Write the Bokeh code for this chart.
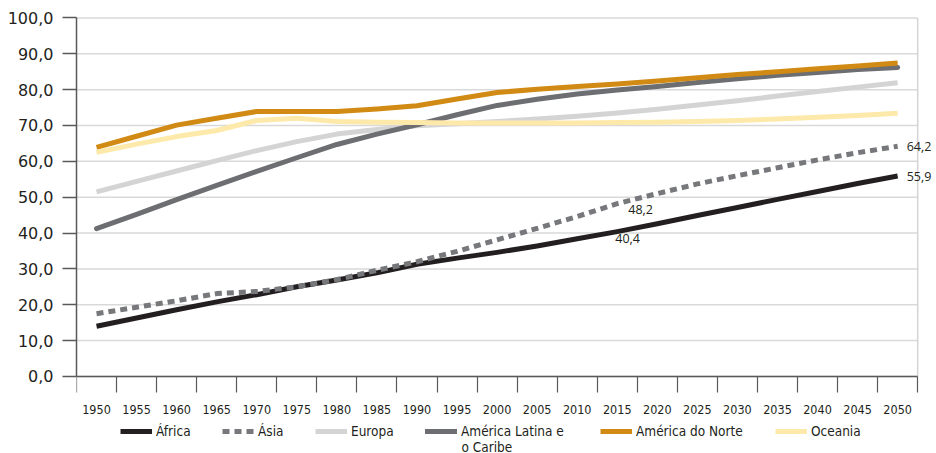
from bokeh.plotting import figure
from bokeh.models import (Range1d, FixedTicker, Legend, LegendItem, LabelSet, Label,
                          ColumnDataSource, LinearAxis)
from bokeh.core.properties import value
from bokeh.embed import file_html
from bokeh.resources import INLINE

years = list(range(1950, 2051, 5))
africa = [14.0, 16.3, 18.6, 20.8, 22.8, 25.0, 26.9, 28.9, 31.3, 33.0, 34.6, 36.4, 38.4, 40.4,
          42.6, 44.9, 47.1, 49.4, 51.6, 53.8, 55.9]
asia = [17.5, 19.3, 21.1, 23.1, 23.7, 25.0, 27.0, 29.6, 32.0, 34.9, 38.1, 41.3, 44.6, 48.2,
        51.0, 53.7, 56.0, 58.2, 60.4, 62.4, 64.2]
europa = [51.5, 54.4, 57.3, 60.2, 63.0, 65.5, 67.6, 68.9, 69.9, 70.5, 71.1, 71.8, 72.6, 73.5,
          74.5, 75.7, 76.9, 78.2, 79.5, 80.7, 81.9]
latam = [41.2, 45.2, 49.3, 53.3, 57.2, 61.0, 64.7, 67.6, 70.2, 73.0, 75.6, 77.3, 78.8, 79.9,
         80.9, 82.0, 83.0, 84.0, 84.8, 85.6, 86.2]
namerica = [63.9, 67.0, 70.1, 72.0, 73.9, 73.9, 73.9, 74.6, 75.5, 77.4, 79.2, 80.1, 80.9, 81.6,
            82.4, 83.3, 84.2, 85.0, 85.8, 86.6, 87.4]
oceania = [62.5, 64.8, 66.9, 68.6, 71.4, 72.0, 71.1, 70.9, 70.8, 70.7, 70.7, 70.7, 70.7, 70.8,
           70.9, 71.1, 71.4, 71.8, 72.3, 72.8, 73.4]

series_names = ["África", "Ásia", "Europa", "América Latina e\no Caribe", "América do Norte", "Oceania"]
series_values = [africa, asia, europa, latam, namerica, oceania]
series_colors = ["#231f20", "#77787b", "#d4d4d4", "#6d6e71", "#d18a14", "#fde9a9"]
series_dash = ["solid", "7 5", "solid", "solid", "solid", "solid"]

y_ticks = list(range(0, 101, 10))
y_labels = {t: f"{t:.1f}".replace(".", ",") for t in y_ticks}

label_years = [2015, 2015, 2050, 2050]
label_values = [asia[years.index(2015)], africa[years.index(2015)],
                asia[years.index(2050)], africa[years.index(2050)]]
label_texts = [f"{v:.1f}".replace(".", ",") for v in label_values]

x_lo, x_hi = years[0] - 2.5, years[-1] + 2.5

p = figure(width=936, height=453,
           x_range=Range1d(x_lo, x_hi + 2.1), y_range=Range1d(-21.5, 100.4),
           x_axis_location=None,
           output_backend="svg", toolbar_location=None,
           min_border_left=76, min_border_right=2, min_border_top=16, min_border_bottom=0)
p.outline_line_color = None
p.background_fill_color = "white"
p.xgrid.visible = False
p.ygrid.visible = False

# horizontal grid lines and right border, limited to the category span
p.segment(x0=[x_lo] * len(y_ticks), y0=y_ticks, x1=[x_hi] * len(y_ticks), y1=y_ticks,
          line_color="#d9d9d9", line_width=1.5)
p.segment(x0=[x_hi], y0=[y_ticks[0]], x1=[x_hi], y1=[y_ticks[-1]],
          line_color="#d4d4d4", line_width=1.5)

yax = p.yaxis[0]
yax.ticker = FixedTicker(ticks=y_ticks)
yax.bounds = (y_ticks[0], y_ticks[-1])
yax.major_label_overrides = y_labels
yax.major_label_text_font = "DejaVu Sans"
yax.major_label_text_font_size = "16px"
yax.major_label_text_color = "#231f20"
yax.major_tick_out = 14
yax.major_tick_in = 0
yax.minor_tick_out = 0
yax.minor_tick_in = 0
yax.major_label_standoff = 9
yax.axis_line_color = "#58595b"
yax.axis_line_width = 1.5
yax.major_tick_line_color = "#58595b"
yax.major_tick_line_width = 1.5

xax = LinearAxis(fixed_location=0)
xax.ticker = FixedTicker(ticks=years, minor_ticks=[y - 2.5 for y in years] + [x_hi])
xax.bounds = (x_lo, x_hi)
xax.major_tick_out = 0
xax.major_tick_in = 0
xax.minor_tick_out = 16
xax.minor_tick_in = 0
xax.major_label_standoff = 13
xax.major_label_text_font = "DejaVu Sans Condensed"
xax.major_label_text_font_size = "12.5px"
xax.major_label_text_color = "#231f20"
xax.axis_line_color = "#58595b"
xax.axis_line_width = 1.5
xax.minor_tick_line_color = "#58595b"
xax.minor_tick_line_width = 1.2
p.add_layout(xax, "below")

renderers = []
for vals, col, dash in zip(series_values, series_colors, series_dash):
    r = p.line(years, vals, line_color=col, line_width=5, line_dash=dash,
               line_cap="round" if col == "#6d6e71" else "butt", line_join="round")
    renderers.append(r)

lsrc = ColumnDataSource(dict(x=label_years, y=label_values, text=label_texts,
                             xo=[11, -2, 9, 9], yo=[-6, -7, 0, 0]))
p.add_layout(LabelSet(x="x", y="y", text="text", x_offset="xo", y_offset="yo", source=lsrc,
                      text_align="left", text_baseline="middle",
                      text_font=value("Open Sans"), text_font_size="12.5px",
                      text_color="#231f20"))

# legend: one entry per series, placed like the reference (screen px from frame left)
legend_x = [44, 146, 239, 349, 524, 699]
legend_font = "DejaVu Sans Condensed"
for name, r, lx in zip(series_names, renderers, legend_x):
    lines = name.split("\n")
    lg = Legend(items=[LegendItem(label=lines[0], renderers=[r])], location=(lx, 14),
                glyph_width=32, glyph_height=14, label_standoff=4,
                label_text_font=legend_font, label_text_font_size="13.5px",
                label_text_color="#231f20", border_line_color=None,
                background_fill_alpha=0, padding=0, margin=0)
    p.add_layout(lg, "center")
    for k, extra in enumerate(lines[1:], start=1):
        p.add_layout(Label(x=lx + 32 + 4, y=22 - 15 * k - 0, x_units="screen", y_units="screen",
                           text=extra, text_font=legend_font, text_font_size="13.5px",
                           text_color="#231f20", text_baseline="middle", text_align="left"))

open("out.html", "w").write(file_html(p, INLINE))
